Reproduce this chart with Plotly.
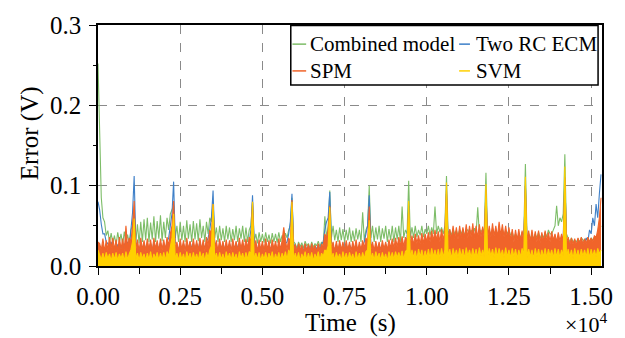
import plotly.graph_objects as go

# ---------------- data (50 s sampling) ----------------
TIME_STEP_S = 50
X_TICK_VALUES = [0, 2500, 5000, 7500, 10000, 12500, 15000]
X_TICK_LABELS = ["0.00", "0.25", "0.50", "0.75", "1.00", "1.25", "1.50"]
Y_TICK_VALUES = [0.0, 0.1, 0.2, 0.3]
Y_TICK_LABELS = ["0.0", "0.1", "0.2", "0.3"]
SERIES_NAMES = ["Combined model", "Two RC ECM", "SPM", "SVM"]

combined_model = [
    0.252, 0.160, 0.085, 0.060, 0.055, 0.038, 0.044, 0.030, 0.041, 0.028,
    0.038, 0.026, 0.042, 0.030, 0.040, 0.027, 0.043, 0.029, 0.039, 0.028,
    0.045, 0.050, 0.070, 0.030, 0.052, 0.028, 0.055, 0.030, 0.058, 0.032,
    0.060, 0.030, 0.054, 0.033, 0.062, 0.030, 0.056, 0.034, 0.063, 0.031,
    0.055, 0.035, 0.060, 0.045, 0.065, 0.070, 0.075, 0.035, 0.050, 0.030,
    0.055, 0.032, 0.050, 0.030, 0.057, 0.034, 0.052, 0.030, 0.056, 0.033,
    0.053, 0.031, 0.058, 0.035, 0.050, 0.030, 0.055, 0.040, 0.060, 0.055,
    0.080, 0.035, 0.048, 0.030, 0.050, 0.032, 0.047, 0.030, 0.050, 0.033,
    0.048, 0.030, 0.046, 0.032, 0.050, 0.030, 0.047, 0.034, 0.050, 0.030,
    0.048, 0.030, 0.045, 0.050, 0.080, 0.030, 0.040, 0.028, 0.042, 0.030,
    0.040, 0.029, 0.042, 0.030, 0.039, 0.028, 0.041, 0.030, 0.040, 0.029,
    0.042, 0.030, 0.038, 0.029, 0.041, 0.035, 0.045, 0.050, 0.085, 0.030,
    0.028, 0.022, 0.030, 0.024, 0.029, 0.022, 0.031, 0.025, 0.028, 0.022,
    0.030, 0.023, 0.028, 0.025, 0.031, 0.024, 0.030, 0.026, 0.062, 0.035,
    0.050, 0.094, 0.035, 0.050, 0.032, 0.045, 0.030, 0.048, 0.032, 0.046,
    0.030, 0.045, 0.032, 0.048, 0.030, 0.044, 0.031, 0.047, 0.033, 0.045,
    0.030, 0.067, 0.032, 0.045, 0.050, 0.100, 0.035, 0.050, 0.030, 0.048,
    0.033, 0.050, 0.030, 0.047, 0.034, 0.050, 0.030, 0.046, 0.032, 0.050,
    0.030, 0.048, 0.033, 0.050, 0.030, 0.074, 0.035, 0.045, 0.040, 0.106,
    0.035, 0.048, 0.035, 0.050, 0.036, 0.045, 0.038, 0.050, 0.036, 0.046,
    0.040, 0.050, 0.038, 0.048, 0.040, 0.074, 0.040, 0.050, 0.042, 0.048,
    0.040, 0.050, 0.112, 0.040, 0.045, 0.038, 0.046, 0.040, 0.044, 0.038,
    0.045, 0.040, 0.046, 0.038, 0.044, 0.045, 0.040, 0.045, 0.038, 0.047,
    0.040, 0.073, 0.040, 0.045, 0.040, 0.048, 0.116, 0.040, 0.045, 0.038,
    0.046, 0.040, 0.045, 0.038, 0.044, 0.040, 0.046, 0.038, 0.044, 0.040,
    0.045, 0.038, 0.042, 0.035, 0.040, 0.034, 0.040, 0.035, 0.042, 0.038,
    0.127, 0.035, 0.040, 0.034, 0.040, 0.033, 0.040, 0.035, 0.042, 0.034,
    0.040, 0.035, 0.042, 0.036, 0.045, 0.040, 0.040, 0.045, 0.050, 0.075,
    0.050, 0.060, 0.055, 0.065, 0.139, 0.040, 0.035, 0.030, 0.035, 0.030,
    0.032, 0.030, 0.034, 0.030, 0.035, 0.032, 0.030, 0.034, 0.035, 0.030,
    0.035, 0.032, 0.036, 0.035, 0.040, 0.045, 0.050,
]

two_rc_ecm = [
    0.080, 0.070, 0.052, 0.040, 0.040, 0.030, 0.028, 0.022, 0.030, 0.020,
    0.025, 0.018, 0.027, 0.020, 0.026, 0.019, 0.028, 0.020, 0.030, 0.022,
    0.045, 0.066, 0.112, 0.030, 0.025, 0.018, 0.027, 0.020, 0.028, 0.021,
    0.026, 0.020, 0.028, 0.019, 0.030, 0.021, 0.027, 0.020, 0.029, 0.022,
    0.027, 0.020, 0.030, 0.035, 0.050, 0.065, 0.105, 0.030, 0.025, 0.020,
    0.027, 0.020, 0.028, 0.021, 0.026, 0.020, 0.030, 0.022, 0.027, 0.020,
    0.028, 0.021, 0.030, 0.020, 0.027, 0.022, 0.030, 0.035, 0.045, 0.060,
    0.094, 0.030, 0.025, 0.019, 0.027, 0.020, 0.028, 0.021, 0.026, 0.020,
    0.028, 0.021, 0.026, 0.020, 0.029, 0.022, 0.027, 0.020, 0.028, 0.021,
    0.027, 0.022, 0.030, 0.045, 0.088, 0.030, 0.025, 0.020, 0.026, 0.019,
    0.027, 0.020, 0.025, 0.019, 0.026, 0.020, 0.027, 0.021, 0.025, 0.020,
    0.026, 0.020, 0.027, 0.022, 0.028, 0.030, 0.040, 0.055, 0.090, 0.028,
    0.024, 0.019, 0.026, 0.020, 0.025, 0.018, 0.027, 0.020, 0.025, 0.019,
    0.026, 0.020, 0.025, 0.021, 0.027, 0.020, 0.028, 0.030, 0.045, 0.055,
    0.060, 0.092, 0.030, 0.025, 0.020, 0.027, 0.019, 0.026, 0.020, 0.025,
    0.019, 0.026, 0.020, 0.027, 0.021, 0.025, 0.019, 0.027, 0.020, 0.025,
    0.020, 0.026, 0.030, 0.040, 0.050, 0.088, 0.028, 0.022, 0.018, 0.025,
    0.019, 0.026, 0.020, 0.025, 0.018, 0.027, 0.020, 0.024, 0.019, 0.026,
    0.020, 0.025, 0.019, 0.027, 0.021, 0.026, 0.020, 0.028, 0.035, 0.075,
    0.025, 0.020, 0.026, 0.019, 0.025, 0.020, 0.027, 0.021, 0.026, 0.020,
    0.025, 0.021, 0.027, 0.020, 0.026, 0.022, 0.028, 0.021, 0.025, 0.020,
    0.027, 0.030, 0.090, 0.025, 0.020, 0.026, 0.019, 0.027, 0.021, 0.025,
    0.020, 0.027, 0.022, 0.028, 0.020, 0.026, 0.021, 0.027, 0.020, 0.025,
    0.022, 0.028, 0.020, 0.026, 0.021, 0.030, 0.090, 0.025, 0.020, 0.026,
    0.021, 0.027, 0.020, 0.030, 0.022, 0.027, 0.021, 0.026, 0.020, 0.025,
    0.021, 0.026, 0.020, 0.025, 0.021, 0.027, 0.020, 0.026, 0.022, 0.027,
    0.100, 0.025, 0.020, 0.026, 0.021, 0.027, 0.020, 0.025, 0.021, 0.026,
    0.020, 0.025, 0.021, 0.027, 0.022, 0.026, 0.021, 0.028, 0.022, 0.030,
    0.025, 0.030, 0.026, 0.035, 0.110, 0.028, 0.022, 0.027, 0.021, 0.026,
    0.022, 0.028, 0.024, 0.030, 0.025, 0.030, 0.028, 0.035, 0.030, 0.045,
    0.040, 0.060, 0.050, 0.077, 0.060, 0.090, 0.114,
]

spm = [
    0.030, 0.028, 0.020, 0.034, 0.018, 0.032, 0.020, 0.036, 0.022, 0.035,
    0.020, 0.033, 0.018, 0.036, 0.021, 0.034, 0.019, 0.050, 0.022, 0.035,
    0.030, 0.050, 0.081, 0.020, 0.033, 0.018, 0.035, 0.020, 0.032, 0.019,
    0.034, 0.020, 0.033, 0.018, 0.035, 0.021, 0.032, 0.019, 0.034, 0.020,
    0.033, 0.020, 0.036, 0.025, 0.040, 0.050, 0.081, 0.020, 0.030, 0.018,
    0.034, 0.020, 0.032, 0.018, 0.035, 0.021, 0.031, 0.019, 0.034, 0.020,
    0.032, 0.019, 0.035, 0.020, 0.033, 0.019, 0.036, 0.025, 0.045, 0.040,
    0.077, 0.020, 0.032, 0.018, 0.034, 0.020, 0.031, 0.019, 0.033, 0.020,
    0.032, 0.018, 0.034, 0.020, 0.031, 0.019, 0.035, 0.021, 0.033, 0.020,
    0.034, 0.022, 0.036, 0.030, 0.080, 0.020, 0.032, 0.018, 0.033, 0.020,
    0.031, 0.019, 0.034, 0.020, 0.032, 0.018, 0.033, 0.021, 0.031, 0.019,
    0.034, 0.020, 0.032, 0.048, 0.033, 0.020, 0.035, 0.030, 0.082, 0.020,
    0.027, 0.018, 0.028, 0.020, 0.026, 0.017, 0.028, 0.019, 0.027, 0.018,
    0.028, 0.020, 0.026, 0.018, 0.028, 0.019, 0.027, 0.025, 0.040, 0.035,
    0.045, 0.075, 0.020, 0.030, 0.018, 0.031, 0.019, 0.032, 0.020, 0.030,
    0.019, 0.032, 0.020, 0.030, 0.018, 0.031, 0.020, 0.033, 0.019, 0.030,
    0.020, 0.032, 0.022, 0.035, 0.030, 0.074, 0.020, 0.030, 0.019, 0.031,
    0.020, 0.030, 0.019, 0.032, 0.021, 0.030, 0.020, 0.033, 0.022, 0.034,
    0.022, 0.035, 0.024, 0.036, 0.025, 0.037, 0.024, 0.036, 0.030, 0.070,
    0.025, 0.038, 0.026, 0.040, 0.028, 0.038, 0.027, 0.041, 0.028, 0.040,
    0.030, 0.042, 0.030, 0.044, 0.031, 0.045, 0.032, 0.043, 0.030, 0.046,
    0.032, 0.045, 0.095, 0.030, 0.046, 0.033, 0.050, 0.034, 0.048, 0.033,
    0.050, 0.035, 0.048, 0.034, 0.052, 0.035, 0.050, 0.036, 0.053, 0.034,
    0.050, 0.035, 0.052, 0.036, 0.049, 0.035, 0.095, 0.034, 0.050, 0.036,
    0.053, 0.037, 0.050, 0.036, 0.055, 0.038, 0.052, 0.036, 0.050, 0.035,
    0.048, 0.032, 0.046, 0.030, 0.045, 0.032, 0.046, 0.031, 0.044, 0.030,
    0.100, 0.030, 0.044, 0.030, 0.045, 0.031, 0.043, 0.030, 0.044, 0.029,
    0.042, 0.030, 0.044, 0.031, 0.042, 0.030, 0.043, 0.032, 0.040, 0.030,
    0.042, 0.031, 0.040, 0.030, 0.110, 0.028, 0.036, 0.026, 0.035, 0.027,
    0.034, 0.026, 0.035, 0.028, 0.036, 0.027, 0.034, 0.028, 0.036, 0.030,
    0.035, 0.030, 0.038, 0.035, 0.045, 0.060, 0.085,
]

svm = [
    0.020, 0.015, 0.008, 0.016, 0.007, 0.017, 0.009, 0.015, 0.006, 0.016,
    0.008, 0.017, 0.007, 0.015, 0.009, 0.016, 0.006, 0.018, 0.008, 0.015,
    0.020, 0.030, 0.059, 0.008, 0.016, 0.007, 0.017, 0.009, 0.015, 0.007,
    0.016, 0.008, 0.018, 0.006, 0.015, 0.009, 0.017, 0.007, 0.016, 0.008,
    0.017, 0.007, 0.018, 0.012, 0.025, 0.035, 0.065, 0.008, 0.016, 0.007,
    0.017, 0.008, 0.015, 0.006, 0.018, 0.009, 0.016, 0.007, 0.017, 0.008,
    0.015, 0.007, 0.018, 0.009, 0.016, 0.006, 0.017, 0.010, 0.020, 0.025,
    0.077, 0.008, 0.016, 0.007, 0.017, 0.008, 0.015, 0.006, 0.018, 0.009,
    0.016, 0.007, 0.017, 0.008, 0.015, 0.006, 0.018, 0.009, 0.016, 0.007,
    0.017, 0.008, 0.018, 0.015, 0.080, 0.007, 0.016, 0.008, 0.017, 0.006,
    0.015, 0.008, 0.017, 0.007, 0.016, 0.009, 0.018, 0.006, 0.015, 0.008,
    0.017, 0.007, 0.016, 0.009, 0.018, 0.008, 0.020, 0.015, 0.080, 0.007,
    0.016, 0.008, 0.017, 0.006, 0.015, 0.009, 0.018, 0.007, 0.016, 0.008,
    0.017, 0.006, 0.015, 0.009, 0.018, 0.007, 0.016, 0.012, 0.020, 0.018,
    0.025, 0.073, 0.008, 0.016, 0.007, 0.017, 0.009, 0.015, 0.006, 0.018,
    0.008, 0.016, 0.007, 0.017, 0.009, 0.015, 0.006, 0.018, 0.008, 0.016,
    0.007, 0.017, 0.009, 0.018, 0.020, 0.057, 0.008, 0.016, 0.007, 0.018,
    0.009, 0.016, 0.007, 0.017, 0.008, 0.015, 0.006, 0.018, 0.009, 0.017,
    0.008, 0.018, 0.010, 0.017, 0.009, 0.019, 0.008, 0.018, 0.020, 0.081,
    0.009, 0.020, 0.010, 0.019, 0.008, 0.021, 0.011, 0.020, 0.009, 0.019,
    0.010, 0.021, 0.009, 0.022, 0.011, 0.020, 0.010, 0.021, 0.009, 0.022,
    0.011, 0.020, 0.104, 0.010, 0.021, 0.009, 0.022, 0.012, 0.020, 0.010,
    0.022, 0.011, 0.021, 0.009, 0.023, 0.012, 0.020, 0.010, 0.022, 0.011,
    0.021, 0.010, 0.023, 0.012, 0.020, 0.011, 0.102, 0.010, 0.022, 0.012,
    0.021, 0.010, 0.023, 0.011, 0.022, 0.012, 0.020, 0.010, 0.023, 0.011,
    0.020, 0.010, 0.022, 0.011, 0.021, 0.009, 0.020, 0.011, 0.022, 0.012,
    0.111, 0.010, 0.021, 0.011, 0.020, 0.009, 0.022, 0.011, 0.021, 0.010,
    0.020, 0.011, 0.022, 0.010, 0.021, 0.012, 0.020, 0.010, 0.022, 0.011,
    0.021, 0.010, 0.020, 0.012, 0.124, 0.010, 0.021, 0.011, 0.020, 0.009,
    0.022, 0.011, 0.020, 0.010, 0.021, 0.012, 0.020, 0.011, 0.022, 0.010,
    0.021, 0.012, 0.020, 0.011, 0.022, 0.015, 0.020,
]

# ---------------- styling ----------------
FONT = "Liberation Serif"
COLORS = {
    "Combined model": "#7dbd68",
    "Two RC ECM": "#3d7fc8",
    "SPM": "#f0642a",
    "SVM": "#ffd000",
}
FILLED = {"Combined model": False, "Two RC ECM": False, "SPM": True, "SVM": True}

series_values = [combined_model, two_rc_ecm, spm, svm]

fig = go.Figure()
for name, values in zip(SERIES_NAMES, series_values):
    t = [i * TIME_STEP_S for i in range(len(values))]
    fig.add_trace(go.Scatter(
        x=t, y=values, name=name, mode="lines",
        line=dict(color=COLORS[name], width=1.1),
        fill="tozeroy" if FILLED[name] else None,
        fillcolor=COLORS[name] if FILLED[name] else None,
        showlegend=False,
    ))

fig.update_layout(
    width=625, height=338,
    margin=dict(l=98, r=12, t=23, b=72),
    paper_bgcolor="white", plot_bgcolor="white",
    font=dict(family=FONT, size=25, color="black"),
    showlegend=False,
)

axis_common = dict(
    showline=True, linecolor="black", linewidth=1.5, mirror=True,
    ticks="outside", tickcolor="black", tickwidth=1.3,
    showgrid=True, gridcolor="#8a8a8a", gridwidth=1.3, griddash="dash",
    zeroline=False,
    tickfont=dict(family=FONT, size=25, color="black"),
)

fig.update_xaxes(
    range=[0, 15330], tickmode="array",
    tickvals=X_TICK_VALUES, ticktext=X_TICK_LABELS, ticklen=7,
    minor=dict(dtick=1250, tick0=0, ticks="outside", ticklen=6,
               tickcolor="black", tickwidth=1.3, showgrid=False),
    **axis_common,
)
fig.update_yaxes(
    range=[0, 0.3], tickmode="array",
    tickvals=Y_TICK_VALUES, ticktext=Y_TICK_LABELS, ticklen=7,
    ticklabelstandoff=3,
    minor=dict(dtick=0.05, tick0=0, ticks="outside", ticklen=3,
               tickcolor="black", tickwidth=1.3, showgrid=False),
    **axis_common,
)

# axis titles and exponent
annotations = [
    dict(text="Time  (s)", x=0.5, y=-0.238, xref="paper", yref="paper",
         xanchor="center", yanchor="middle", showarrow=False,
         font=dict(family=FONT, size=25, color="black")),
    dict(text="×10<sup>4</sup>", x=0.968, y=-0.236, xref="paper", yref="paper",
         xanchor="center", yanchor="middle", showarrow=False,
         font=dict(family=FONT, size=22, color="black")),
    dict(text="Error (V)", x=-0.136, y=0.553, xref="paper", yref="paper",
         xanchor="center", yanchor="middle", showarrow=False, textangle=-90,
         font=dict(family=FONT, size=25, color="black")),
]

# legend drawn as a boxed 2x2 key
shapes = [dict(type="rect", xref="paper", yref="paper",
               x0=0.3825, x1=0.9922, y0=0.751, y1=0.9975,
               line=dict(color="black", width=1.5), fillcolor="white",
               layer="above")]
legend_rows = [0.9206, 0.8095]
legend_cols = [(0.3858, 0.4130, 0.4175), (0.7165, 0.7380, 0.7456)]
for k, name in enumerate(SERIES_NAMES):
    ry = legend_rows[k // 2]
    x0, x1, xt = legend_cols[k % 2]
    shapes.append(dict(type="line", xref="paper", yref="paper",
                       x0=x0, x1=x1, y0=ry, y1=ry, layer="above",
                       line=dict(color=COLORS[name], width=1.5)))
    annotations.append(dict(text=name, x=xt, y=ry, xref="paper", yref="paper",
                            xanchor="left", yanchor="middle", showarrow=False,
                            font=dict(family=FONT, size=21, color="black")))

fig.update_layout(annotations=annotations, shapes=shapes)
fig.write_html("out.html",
               config={"displayModeBar": False},
               post_script="document.body.style.margin='0px';")
